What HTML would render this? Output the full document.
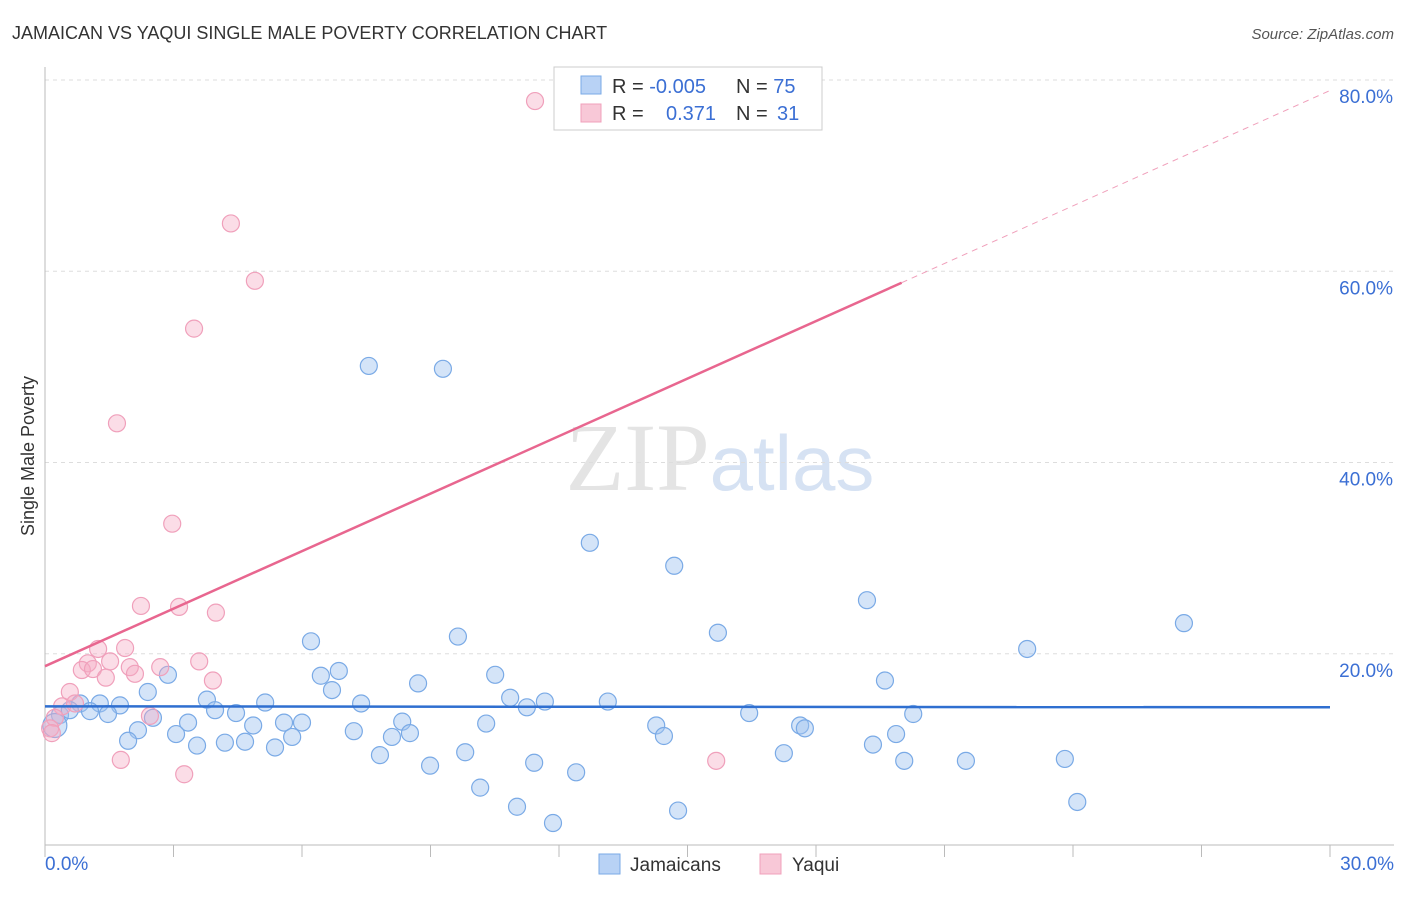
<!DOCTYPE html>
<html><head><meta charset="utf-8"><style>
body{margin:0;background:#fff;font-family:"Liberation Sans",sans-serif}
svg text{font-family:"Liberation Sans",sans-serif}
</style></head><body>
<svg width="1406" height="892" xmlns="http://www.w3.org/2000/svg">
<text x="12" y="39" font-size="18" fill="#333">JAMAICAN VS YAQUI SINGLE MALE POVERTY CORRELATION CHART</text>
<text x="1394" y="39" font-size="15" fill="#555" font-style="italic" text-anchor="end">Source: ZipAtlas.com</text>
<text x="720" y="490" font-size="96" fill="#e4e4e4" text-anchor="middle" font-family="Liberation Serif"><tspan font-family="Liberation Serif">ZIP</tspan><tspan fill="#d6e2f3" font-family="Liberation Sans" font-size="78">atlas</tspan></text>
<g id="grid"></g>
<g id="axes"></g>
<g id="marks"></g>
<g id="trend"></g>
<text x="34" y="456" font-size="18" fill="#333" text-anchor="middle" transform="rotate(-90 34 456)">Single Male Poverty</text>
<g>
<rect x="554" y="67" width="268" height="63" fill="#fff" stroke="#ccc"/>
<rect x="581" y="76" width="20" height="18" fill="#b8d2f5" stroke="#7aaae6"/>
<rect x="581" y="104" width="20" height="18" fill="#f8c8d7" stroke="#f0a0bb"/>
<text x="612" y="93" font-size="20" fill="#333">R = <tspan fill="#3b6fd4">-0.005</tspan></text>
<text x="736" y="93" font-size="20" fill="#333">N = <tspan fill="#3b6fd4">75</tspan></text>
<text x="612" y="120" font-size="20" fill="#333">R = <tspan fill="#3b6fd4" x="666">0.371</tspan></text>
<text x="736" y="120" font-size="20" fill="#333">N = <tspan fill="#3b6fd4" x="777">31</tspan></text>
</g>
<g>
<rect x="599" y="854" width="21" height="20" fill="#b8d2f5" stroke="#7aaae6"/>
<text x="630" y="871" font-size="19" fill="#333">Jamaicans</text>
<rect x="760" y="854" width="21" height="20" fill="#f8c8d7" stroke="#f0a0bb"/>
<text x="792" y="871" font-size="19" fill="#333">Yaqui</text>
</g>
</svg>
<script>
const blueX=[7.56,9.29,12.72,14.69,19.19,26.59,15.71,22.93,6.21,9.64,6.86,6.44,2.87,10.51,8.71,19.61,6.70,2.40,3.78,5.14,10.86,11.67,13.14,7.38,1.28,1.75,0.82,1.05,1.47,3.97,4.46,11.25,16.44,20.27,0.35,0.58,2.52,3.34,4.86,5.58,6.00,8.34,10.30,14.27,17.63,17.74,2.17,3.06,7.21,8.52,8.10,5.77,14.45,19.87,1.94,4.20,4.67,3.55,5.37,19.33,9.81,17.25,7.82,8.99,11.42,20.06,21.50,23.81,12.40,10.16,11.02,24.10,14.78,11.86,0.23];
const blueY=[50.1,49.8,31.6,29.2,25.6,23.2,22.2,20.5,21.3,21.8,18.2,17.7,17.8,17.8,16.9,17.2,16.2,16.0,15.2,14.9,15.4,15.0,15.0,14.8,14.8,14.6,14.8,14.0,13.7,14.1,13.8,14.4,13.8,13.7,13.6,14.1,13.3,12.8,12.5,12.8,12.8,12.9,12.7,12.5,12.5,12.2,12.0,11.6,11.9,11.7,11.3,11.3,11.4,11.6,10.9,10.7,10.8,10.4,10.2,10.5,9.7,9.6,9.4,8.3,8.6,8.8,8.8,9.0,7.6,6.0,4.0,4.5,3.6,2.3,12.5];
const pinkX=[11.44,4.34,4.90,3.48,1.68,2.97,2.24,3.13,3.99,1.24,1.87,1.52,1.00,3.60,2.69,0.86,1.12,1.98,2.10,1.42,3.92,0.58,0.40,0.70,2.45,0.23,0.12,0.16,1.77,3.25,15.67];
const pinkY=[77.8,65.0,59.0,54.0,44.1,33.6,25.0,24.9,24.3,20.5,20.6,19.2,19.0,19.2,18.6,18.3,18.4,18.6,17.9,17.5,17.2,16.0,14.5,14.8,13.5,13.3,12.2,11.7,8.9,7.4,8.8];
const yTicks=[20,40,60,80];
const yTickLabels=["20.0%","40.0%","60.0%","80.0%"];
const xTickLabels=["0.0%","30.0%"];
const blueTrend=[14.5,14.4];
const pinkTrend=[18.7,58.8,78.9];
const pinkTrendX=[0,20,30];
const NS='http://www.w3.org/2000/svg';
const sx=v=>45+v*42.833, sy=v=>845-v*9.5625;
function mk(t,a,p){const e=document.createElementNS(NS,t);for(const k in a)e.setAttribute(k,a[k]);p.appendChild(e);return e;}
const grid=document.getElementById('grid'),axes=document.getElementById('axes'),marks=document.getElementById('marks'),trend=document.getElementById('trend');
yTicks.forEach((t,i)=>{
 const l=mk('line',{x1:45,x2:1394,y1:sy(t),y2:sy(t),stroke:'#ddd','stroke-dasharray':'4,4'},grid);
 
 
 const tx=mk('text',{x:1393,y:sy(t)+23,'font-size':19,fill:'#3b6fd4','text-anchor':'end'},grid);tx.textContent=yTickLabels[i];
 
 
});
const ax=mk('line',{x1:45,x2:1394,y1:845,y2:845,stroke:'#bbb'},axes);


const ay=mk('line',{x1:45,x2:45,y1:67,y2:845,stroke:'#bbb'},axes);


for(let i=0;i<=10;i++){const t=mk('line',{x1:sx(i*3),x2:sx(i*3),y1:845,y2:857,stroke:'#bbb'},axes);
 
 }
[[0,'start',45],[30,'end',1394]].forEach((d,i)=>{const t=mk('text',{x:d[2],y:870,'font-size':19,fill:'#3b6fd4','text-anchor':d[1]},axes);t.textContent=xTickLabels[i];
 
 });
blueX.forEach((x,i)=>{const c=mk('circle',{cx:sx(x),cy:sy(blueY[i]),r:i==blueX.length-1?12:8.5,fill:'rgba(160,196,240,0.45)',stroke:'#7aaae6','stroke-width':1.2},marks);
 
 });
pinkX.forEach((x,i)=>{const c=mk('circle',{cx:sx(x),cy:sy(pinkY[i]),r:8.5,fill:'rgba(245,170,195,0.4)',stroke:'#f0a0bb','stroke-width':1.2},marks);
 
 });
const bl=mk('line',{x1:sx(0),x2:sx(30),y1:sy(blueTrend[0]),y2:sy(blueTrend[1]),stroke:'#2f6fd0','stroke-width':2.5},trend);


const pl=mk('line',{x1:sx(pinkTrendX[0]),x2:sx(pinkTrendX[1]),y1:sy(pinkTrend[0]),y2:sy(pinkTrend[1]),stroke:'#e8668f','stroke-width':2.5},trend);


const pd=mk('line',{x1:sx(pinkTrendX[1]),x2:sx(pinkTrendX[2]),y1:sy(pinkTrend[1]),y2:sy(pinkTrend[2]),stroke:'#f0a0bb','stroke-width':1,'stroke-dasharray':'6,5'},trend);


</script>
</body></html>
